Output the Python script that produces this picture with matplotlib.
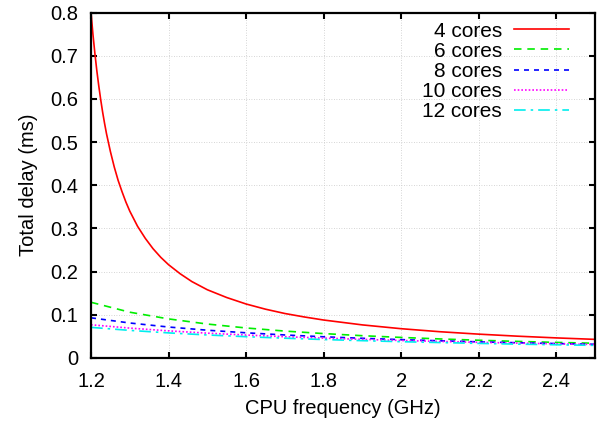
import matplotlib
matplotlib.use('Agg')
import numpy as np
import matplotlib.pyplot as plt

plt.rcParams['font.family'] = ['Liberation Sans', 'DejaVu Sans']

# 4 核曲线在低频处很陡，取点更密
freq_4 = [1.200, 1.205, 1.210, 1.215, 1.220, 1.225, 1.230, 1.235, 1.240,
          1.25, 1.26, 1.27, 1.28, 1.29, 1.30, 1.32, 1.34, 1.36, 1.38, 1.40,
          1.43, 1.46, 1.50, 1.55, 1.60, 1.65, 1.70, 1.75, 1.80, 1.90, 2.00,
          2.10, 2.20, 2.30, 2.40, 2.50]
delay_4 = [0.800, 0.749, 0.705, 0.665, 0.630, 0.598, 0.569, 0.543, 0.519,
           0.478, 0.442, 0.411, 0.385, 0.361, 0.340, 0.305, 0.277, 0.253,
           0.233, 0.216, 0.195, 0.177, 0.158, 0.140, 0.125, 0.113, 0.103,
           0.0950, 0.0879, 0.0766, 0.0678, 0.0608, 0.0552, 0.0505, 0.0465,
           0.0431]

freq = [1.2, 1.3, 1.4, 1.5, 1.6, 1.7, 1.8, 1.9, 2.0, 2.1, 2.2, 2.3, 2.4, 2.5]
delay_6 = [0.129, 0.106, 0.0905, 0.0786, 0.0695, 0.0623, 0.0565, 0.0516,
           0.0476, 0.0441, 0.0411, 0.0384, 0.0361, 0.0341]
delay_8 = [0.0930, 0.0810, 0.0717, 0.0643, 0.0583, 0.0533, 0.0491, 0.0456,
           0.0425, 0.0398, 0.0374, 0.0353, 0.0334, 0.0317]
delay_10 = [0.0769, 0.0692, 0.0628, 0.0575, 0.0531, 0.0493, 0.0460, 0.0431,
            0.0405, 0.0383, 0.0362, 0.0344, 0.0328, 0.0313]
delay_12 = [0.0709, 0.0639, 0.0581, 0.0533, 0.0493, 0.0458, 0.0427, 0.0401,
            0.0377, 0.0357, 0.0338, 0.0321, 0.0306, 0.0292]

labels = ['4 cores', '6 cores', '8 cores', '10 cores', '12 cores']
xticks = [1.2, 1.4, 1.6, 1.8, 2.0, 2.2, 2.4]
xticklabels = ['1.2', '1.4', '1.6', '1.8', '2', '2.2', '2.4']
yticks = [0, 0.1, 0.2, 0.3, 0.4, 0.5, 0.6, 0.7, 0.8]
yticklabels = ['0', '0.1', '0.2', '0.3', '0.4', '0.5', '0.6', '0.7', '0.8']

fig = plt.figure(figsize=(6.02, 4.24), dpi=100)
ax = fig.add_axes([0.1512, 0.1557, 0.8372, 0.8148])

ax.plot(freq_4, delay_4, color='#ff0000', lw=1.2, label=labels[0])
ax.plot(freq, delay_6, color='#00ee00', lw=1.2, dashes=(4.5, 3.5), label=labels[1])
ax.plot(freq, delay_8, color='#0000ff', lw=1.2, dashes=(3, 3), label=labels[2])
ax.plot(freq, delay_10, color='#ff00ff', lw=1.2, dashes=(1, 1.2), label=labels[3])
ax.plot(freq, delay_12, color='#00eeee', lw=1.2, dashes=(7, 3, 1.5, 3), label=labels[4])

ax.set_xlim(1.2, 2.5)
ax.set_ylim(0, 0.8)
ax.set_xticks(xticks)
ax.set_xticklabels(xticklabels)
ax.set_yticks(yticks)
ax.set_yticklabels(yticklabels)
ax.tick_params(direction='in', length=4.5, width=1.5, labelsize=14.5,
               top=True, right=True)
ax.tick_params(axis='x', pad=10)
ax.tick_params(axis='y', pad=9)
for s in ax.spines.values():
    s.set_linewidth(1.6)
ax.grid(True, color='#c8c8c8', linestyle=(0, (1, 2)), lw=0.6)

ax.set_xlabel('CPU frequency (GHz)', fontsize=14.5, labelpad=6)
ax.set_ylabel('Total delay (ms)', fontsize=14.5, labelpad=9)

ax.legend(loc='upper right', bbox_to_anchor=(0.9649, 0.9974), frameon=False,
          fontsize=15, markerfirst=False, handlelength=2.64,
          labelspacing=0.05, borderaxespad=0, handletextpad=0.57,
          borderpad=0.4)

plt.savefig('out.png', dpi=100)
plt.close()
